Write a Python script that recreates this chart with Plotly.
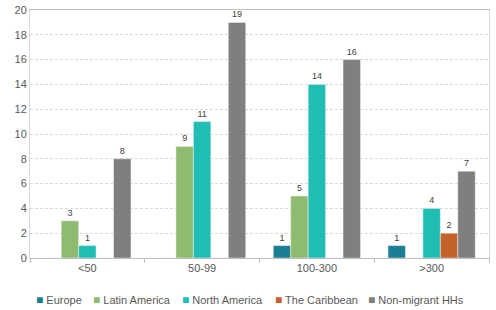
import plotly.graph_objects as go

categories = ["<50", "50-99", "100-300", ">300"]
series_names = ["Europe", "Latin America", "North America", "The Caribbean", "Non-migrant HHs"]
europe = [0, 0, 1, 1]
latin_america = [3, 9, 5, 0]
north_america = [1, 11, 14, 4]
caribbean = [0, 0, 0, 2]
non_migrant = [8, 19, 16, 7]
y_ticks = [0, 2, 4, 6, 8, 10, 12, 14, 16, 18, 20]

colors = ["#1b7f93", "#8fbb70", "#1fbdb4", "#c4622a", "#7f7f7f"]
all_values = [europe, latin_america, north_america, caribbean, non_migrant]
legend_x = [0.009, 0.133, 0.327, 0.530, 0.732]

fig = go.Figure()
for name, vals, col in zip(series_names, all_values, colors):
    fig.add_trace(go.Bar(
        x=categories, y=vals, name=name,
        marker=dict(color=col, line=dict(color="#f2f2f2", width=0.5)),
        text=[str(v) if v else "" for v in vals],
        textposition="outside",
        textfont=dict(size=9, color="#404040", family="Liberation Sans"),
        cliponaxis=False,
        showlegend=False,
    ))

for name, col, lx in zip(series_names, colors, legend_x):
    fig.add_annotation(
        xref="paper", yref="paper", x=lx, y=-0.168, xanchor="left", yanchor="middle",
        showarrow=False,
        text=f'<span style="color:{col};font-size:12px">■</span> {name}',
        font=dict(family="Liberation Sans", size=11, color="#595959"),
    )

fig.update_layout(
    width=496, height=310,
    barmode="group", bargap=0.24, bargroupgap=0,
    plot_bgcolor="white", paper_bgcolor="white",
    margin=dict(l=30, r=7, t=10, b=52, autoexpand=False),
    font=dict(family="Liberation Sans", size=11, color="#595959"),
    showlegend=False,
)
fig.update_xaxes(
    showline=True, linecolor="#bfbfbf", linewidth=1, mirror=True,
    ticks="outside", tickson="boundaries", ticklen=4, tickcolor="#bfbfbf",
    tickfont=dict(size=11, color="#595959"),
)
fig.update_yaxes(
    range=[0, 20], tickvals=y_ticks, showline=True, linecolor="#d9d9d9",
    linewidth=1, mirror=True,
    showgrid=True, gridcolor="#d9d9d9", griddash="3px,2px", gridwidth=1,
    zeroline=False, ticks="", tickfont=dict(size=11, color="#595959"),
)

fig.write_html("out.html", config={"displayModeBar": False},
               post_script="document.body.style.margin='0';")
